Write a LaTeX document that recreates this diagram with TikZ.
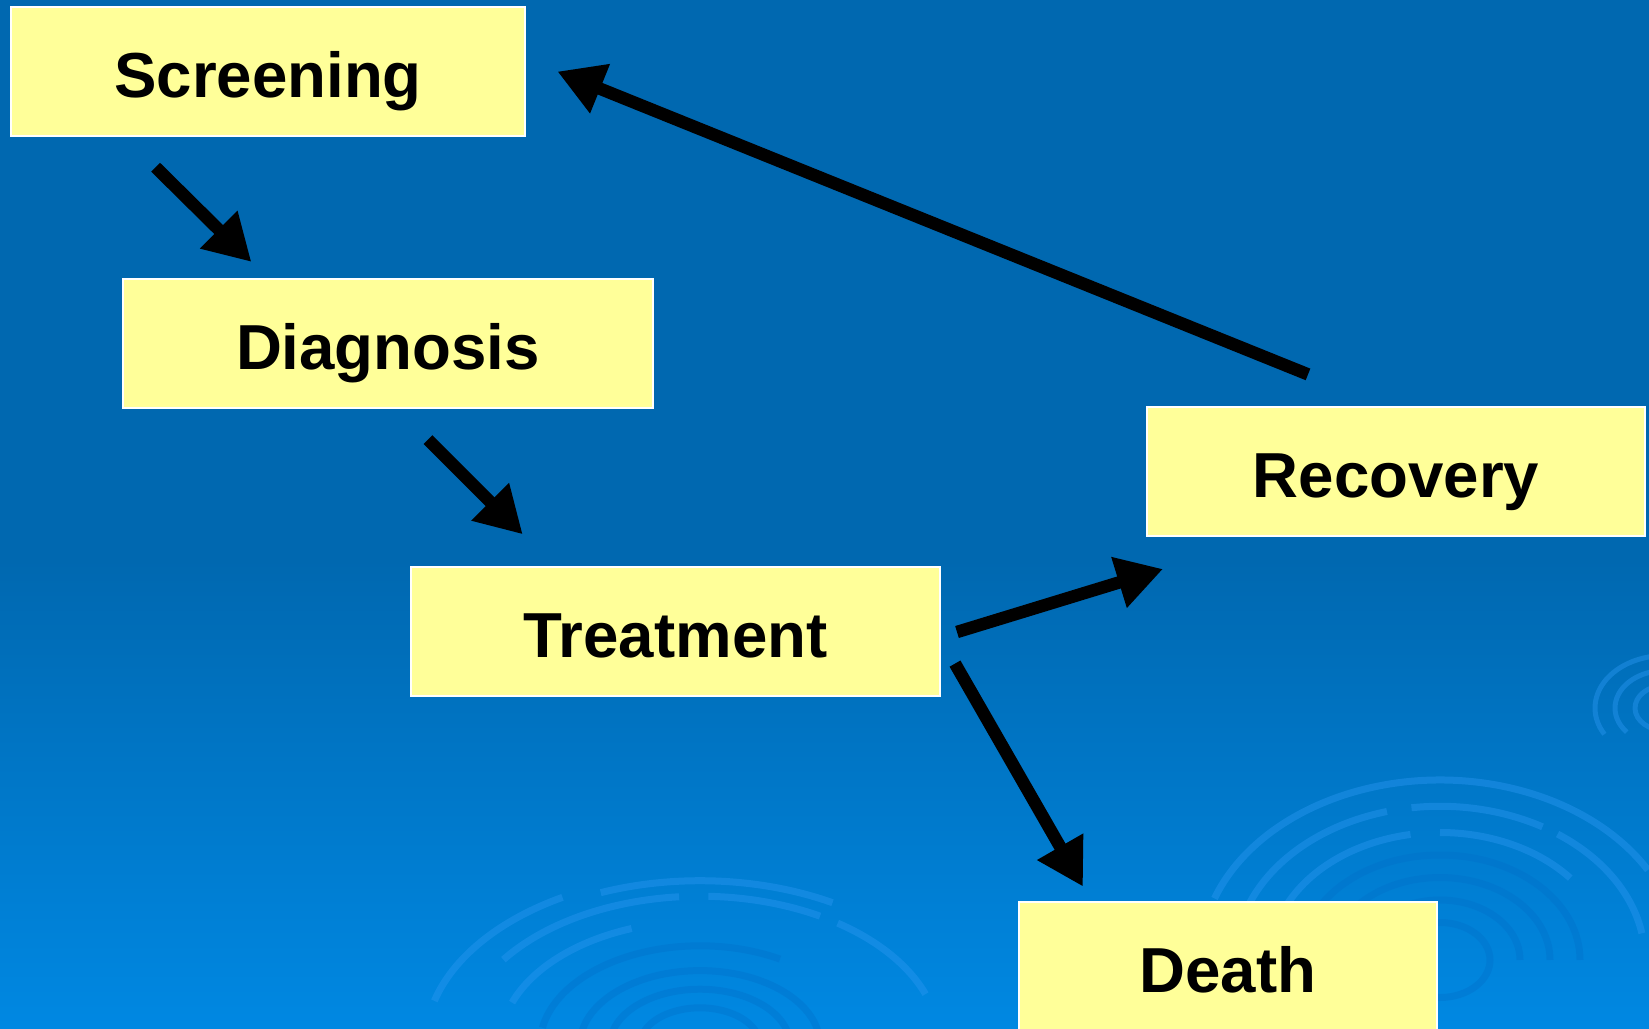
\documentclass[tikz,border=0pt]{standalone}
\usepackage{fontspec}
\setmainfont{Liberation Sans}
\usetikzlibrary{arrows.meta}
\definecolor{bgtop}{RGB}{0,104,176}
\definecolor{bgbot}{RGB}{0,136,226}
\definecolor{boxfill}{RGB}{255,255,153}
\definecolor{ripple}{RGB}{40,150,240}
\definecolor{rippledark}{RGB}{0,110,200}
\tikzset{
  stagebox/.style={draw=white, line width=1.5pt, fill=boxfill, minimum width=#1, minimum height=129pt, inner sep=0pt,
    font=\fontsize{63.6}{68}\selectfont\bfseries, text=black, text height=51pt, text depth=0pt},
  flowarrow/.style={line width=12.5pt, -{Triangle[length=46pt,width=50pt]}, black},
  ripplearc/.style={draw=ripple, line width=7pt, opacity=0.45},
  rippleinner/.style={draw=rippledark, line width=7pt, opacity=0.35},
}
\begin{document}
\begin{tikzpicture}[x=1pt,y=-1pt]
\useasboundingbox (0,0) rectangle (1649,1028);
\fill[bgtop] (0,0) rectangle (1649,560);
\shade[top color=bgtop, bottom color=bgbot] (0,559) rectangle (1649,1028);
% ripples
\begin{scope}
\clip (0,0) rectangle (1649,1028);
\foreach \r/\a/\b in {240/200/330, 235/335/360, 205/190/255, 205/262/300, 205/305/350, 170/200/260, 170/270/320}
  \draw[ripplearc] ([shift={({\a}:{\r} and {0.75*\r})}]1440,960) arc[start angle=\a, end angle=\b, x radius=\r, y radius=0.75*\r];
\foreach \r/\a/\b in {140/185/360, 110/180/360, 80/180/360, 50/0/360}
  \draw[rippleinner] ([shift={({\a}:{\r} and {0.75*\r})}]1440,960) arc[start angle=\a, end angle=\b, x radius=\r, y radius=0.75*\r];
\foreach \r/\a/\b in {275/195/240, 265/248/300, 240/215/265, 240/272/300, 240/305/340, 200/200/250}
  \draw[ripplearc] ([shift={({\a}:{\r} and {0.62*\r})}]700,1045) arc[start angle=\a, end angle=\b, x radius=\r, y radius=0.62*\r];
\foreach \r/\a/\b in {160/190/300, 120/180/360, 90/180/360, 60/180/360}
  \draw[rippleinner] ([shift={({\a}:{\r} and {0.62*\r})}]700,1045) arc[start angle=\a, end angle=\b, x radius=\r, y radius=0.62*\r];
\foreach \r/\a/\b in {70/150/260, 50/140/300, 30/100/360}
  \draw[ripplearc, line width=5pt] ([shift={({\a}:{\r} and {0.75*\r})}]1665,708) arc[start angle=\a, end angle=\b, x radius=\r, y radius=0.75*\r];
\end{scope}
% boxes
\node[stagebox=514pt] (screening) at (268,71.5) {Screening};
\node[stagebox=530pt] (diagnosis) at (388,343.5) {Diagnosis};
\node[stagebox=529pt] (treatment) at (675.5,631.5) {Treatment};
\node[stagebox=498pt] (recovery) at (1396,471.5) {Recovery};
\node[stagebox=418pt] (death) at (1228,966.5) {Death};
% arrow end points
\coordinate (a1s) at (155.6,167.2);
\coordinate (a1e) at (251.4,261.9);
\coordinate (a2s) at (428,439.6);
\coordinate (a2e) at (522.7,534.3);
\coordinate (a3s) at (957,632);
\coordinate (a3e) at (1163,569);
\coordinate (a4s) at (955,663.6);
\coordinate (a4e) at (1083,886.6);
\coordinate (a5s) at (1308,374.4);
\coordinate (a5e) at (557.4,71.5);
\draw[flowarrow] (a1s) -- (a1e);
\draw[flowarrow] (a2s) -- (a2e);
\draw[flowarrow] (a3s) -- (a3e);
\draw[flowarrow] (a4s) -- (a4e);
\draw[flowarrow] (a5s) -- (a5e);
\end{tikzpicture}
\end{document}
